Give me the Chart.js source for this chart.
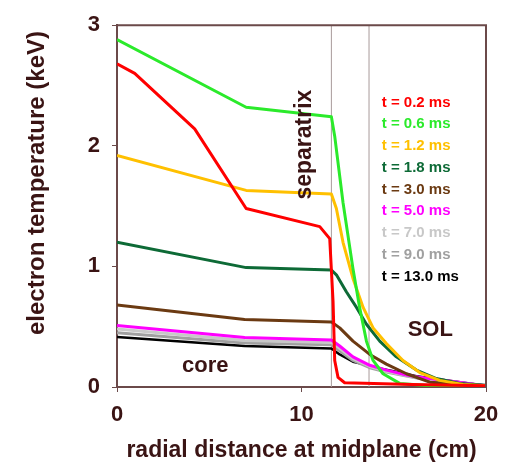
<!DOCTYPE html>
<html lang="en">
<head>
<meta charset="utf-8">
<title>Electron temperature profiles</title>
<script src="https://cdn.jsdelivr.net/npm/chart.js@4.4.1/dist/chart.umd.min.js"></script>
<style>
  html, body { margin: 0; padding: 0; background: #fff; }
  #wrap { width: 512px; height: 468px; }
</style>
</head>
<body>
<div id="wrap"><canvas id="chart" width="512" height="468"></canvas></div>
<script>
// radial distance (cm) / electron temperature (keV), one pair per time slice
const r02  = [0, 0.96, 4.21, 7.0, 10.99, 11.53, 11.71, 11.8, 11.98, 12.34, 16, 20];
const te02 = [2.68, 2.60, 2.14, 1.48, 1.33, 1.23, 0.71, 0.22, 0.08, 0.035, 0.02, 0.01];

const r06  = [0, 7.0, 11.62, 11.8, 12.25, 12.79, 13.15, 13.52, 13.88, 14.42, 15.32, 16.95, 20];
const te06 = [2.88, 2.32, 2.24, 2.08, 1.53, 0.98, 0.66, 0.38, 0.22, 0.11, 0.03, 0.01, 0];

const r12  = [0, 7.0, 11.62, 11.89, 12.25, 12.79, 13.34, 13.88, 14.6, 15.5, 16.41, 17.49, 18.75, 20];
const te12 = [1.92, 1.63, 1.60, 1.48, 1.20, 0.90, 0.66, 0.49, 0.36, 0.22, 0.12, 0.055, 0.02, 0.01];

const r18  = [0, 7.0, 11.62, 11.89, 12.43, 12.98, 13.52, 14.24, 15.14, 16.23, 17.31, 18.57, 20];
const te18 = [1.20, 0.99, 0.97, 0.93, 0.79, 0.66, 0.52, 0.38, 0.25, 0.14, 0.07, 0.03, 0.015];

const r30  = [0, 6.92, 11.62, 12.07, 12.79, 13.7, 14.6, 15.69, 16.95, 20];
const te30 = [0.68, 0.56, 0.54, 0.49, 0.38, 0.27, 0.19, 0.11, 0.04, 0.01];

const rLate = [0, 6.92, 11.62, 12.07, 12.79, 13.7, 14.6, 15.69, 16.41, 20];
const te50  = [0.51, 0.41, 0.39, 0.34, 0.25, 0.18, 0.14, 0.10, 0.08, 0.01];
const te70  = [0.48, 0.385, 0.37, 0.32, 0.235, 0.17, 0.13, 0.095, 0.075, 0.01];
const te90  = [0.45, 0.365, 0.35, 0.30, 0.22, 0.16, 0.125, 0.09, 0.07, 0.01];

const r130  = [0, 6.92, 11.62, 12.07, 12.79, 13.34, 14.06, 15.32, 16.23, 20];
const te130 = [0.415, 0.34, 0.32, 0.27, 0.21, 0.19, 0.16, 0.12, 0.09, 0.01];

const seriesLabels = ['t = 0.2 ms', 't = 0.6 ms', 't = 1.2 ms', 't = 1.8 ms', 't = 3.0 ms',
                      't = 5.0 ms', 't = 7.0 ms', 't = 9.0 ms', 't = 13.0 ms'];
const seriesR  = [r02, r06, r12, r18, r30, rLate, rLate, rLate, r130];
const seriesTe = [te02, te06, te12, te18, te30, te50, te70, te90, te130];
const seriesColors = ['#ff0000', '#2bea2b', '#ffc000', '#0d6a36', '#6b3a12',
                      '#ff00ff', '#c8c8c8', '#a0a0a0', '#000000'];

// separatrix / SOL boundary lines (cm)
const boundaryR = [11.62, 13.66];

const xTicks = [0, 10, 20];
const yTicks = [0, 1, 2, 3];

const FONT = '"Liberation Sans", Arial, sans-serif';
const TEXT = '#3a1414';
const AXIS = '#6b4a4a';

const datasets = seriesLabels.map((label, i) => ({
  label,
  data: seriesR[i].map((r, j) => ({ x: r, y: seriesTe[i][j] })),
  borderColor: seriesColors[i],
  borderWidth: i === 8 ? 2.5 : 3,
  borderJoinStyle: 'round',
  pointRadius: 0,
  tension: 0,
  fill: false,
  order: 0
}));

boundaryR.forEach(r => {
  datasets.push({
    label: '',
    data: [{ x: r, y: 0 }, { x: r, y: 3 }],
    borderColor: '#a89a9a',
    borderWidth: 1,
    pointRadius: 0,
    fill: false,
    order: 1
  });
});

const annotations = {
  id: 'annotations',
  afterDraw(chart) {
    const { ctx, chartArea: a, scales: { x, y } } = chart;
    ctx.save();

    // top and right frame
    ctx.strokeStyle = AXIS;
    ctx.lineWidth = 2;
    ctx.beginPath();
    ctx.moveTo(a.left, a.top);
    ctx.lineTo(a.right, a.top);
    ctx.lineTo(a.right, a.bottom);
    ctx.stroke();

    // y axis title
    ctx.fillStyle = TEXT;
    ctx.font = 'bold 24px ' + FONT;
    ctx.textAlign = 'center';
    ctx.textBaseline = 'alphabetic';
    ctx.save();
    ctx.translate(44, 183);
    ctx.rotate(-Math.PI / 2);
    ctx.fillText('electron temperature (keV)', 0, 0);
    ctx.restore();

    // separatrix label
    ctx.save();
    ctx.font = 'bold 23px ' + FONT;
    ctx.translate(x.getPixelForValue(10.5), y.getPixelForValue(2.01));
    ctx.rotate(-Math.PI / 2);
    ctx.fillText('separatrix', 0, 0);
    ctx.restore();

    ctx.font = 'bold 22px ' + FONT;
    ctx.fillText('core', x.getPixelForValue(4.78), y.getPixelForValue(0.123));
    ctx.fillText('SOL', x.getPixelForValue(16.98), y.getPixelForValue(0.424));

    // legend
    ctx.font = 'bold 15px ' + FONT;
    ctx.textAlign = 'left';
    const lx = x.getPixelForValue(14.35);
    const ly = y.getPixelForValue(2.325);
    seriesLabels.forEach((label, i) => {
      ctx.fillStyle = seriesColors[i];
      ctx.fillText(label, lx, ly + i * 21.75);
    });

    ctx.restore();
  }
};

new Chart(document.getElementById('chart'), {
  type: 'line',
  data: { datasets },
  options: {
    responsive: false,
    animation: false,
    layout: { padding: { left: 0, top: 21, right: 26, bottom: 0 } },
    plugins: { legend: { display: false }, tooltip: { enabled: false } },
    scales: {
      x: {
        type: 'linear',
        min: 0,
        max: 20,
        afterBuildTicks: s => { s.ticks = xTicks.map(v => ({ value: v })); },
        afterFit: s => { s.height = 81; },
        ticks: { color: TEXT, font: { family: FONT, size: 22, weight: 'bold' }, padding: 10, maxRotation: 0 },
        grid: { display: true, drawOnChartArea: false, drawTicks: true, tickLength: 5, color: AXIS },
        border: { display: true, color: AXIS, width: 2 },
        title: {
          display: true,
          text: 'radial distance at midplane (cm)',
          color: TEXT,
          font: { family: FONT, size: 23, weight: 'bold' },
          padding: { top: 0, bottom: 4 }
        }
      },
      y: {
        min: 0,
        max: 3,
        afterBuildTicks: s => { s.ticks = yTicks.map(v => ({ value: v })); },
        afterFit: s => { s.width = 117; },
        ticks: { color: TEXT, font: { family: FONT, size: 22, weight: 'bold' }, padding: 12 },
        grid: { display: true, drawOnChartArea: false, drawTicks: true, tickLength: 5, color: AXIS },
        border: { display: true, color: AXIS, width: 2 }
      }
    }
  },
  plugins: [annotations]
});
</script>
</body>
</html>
